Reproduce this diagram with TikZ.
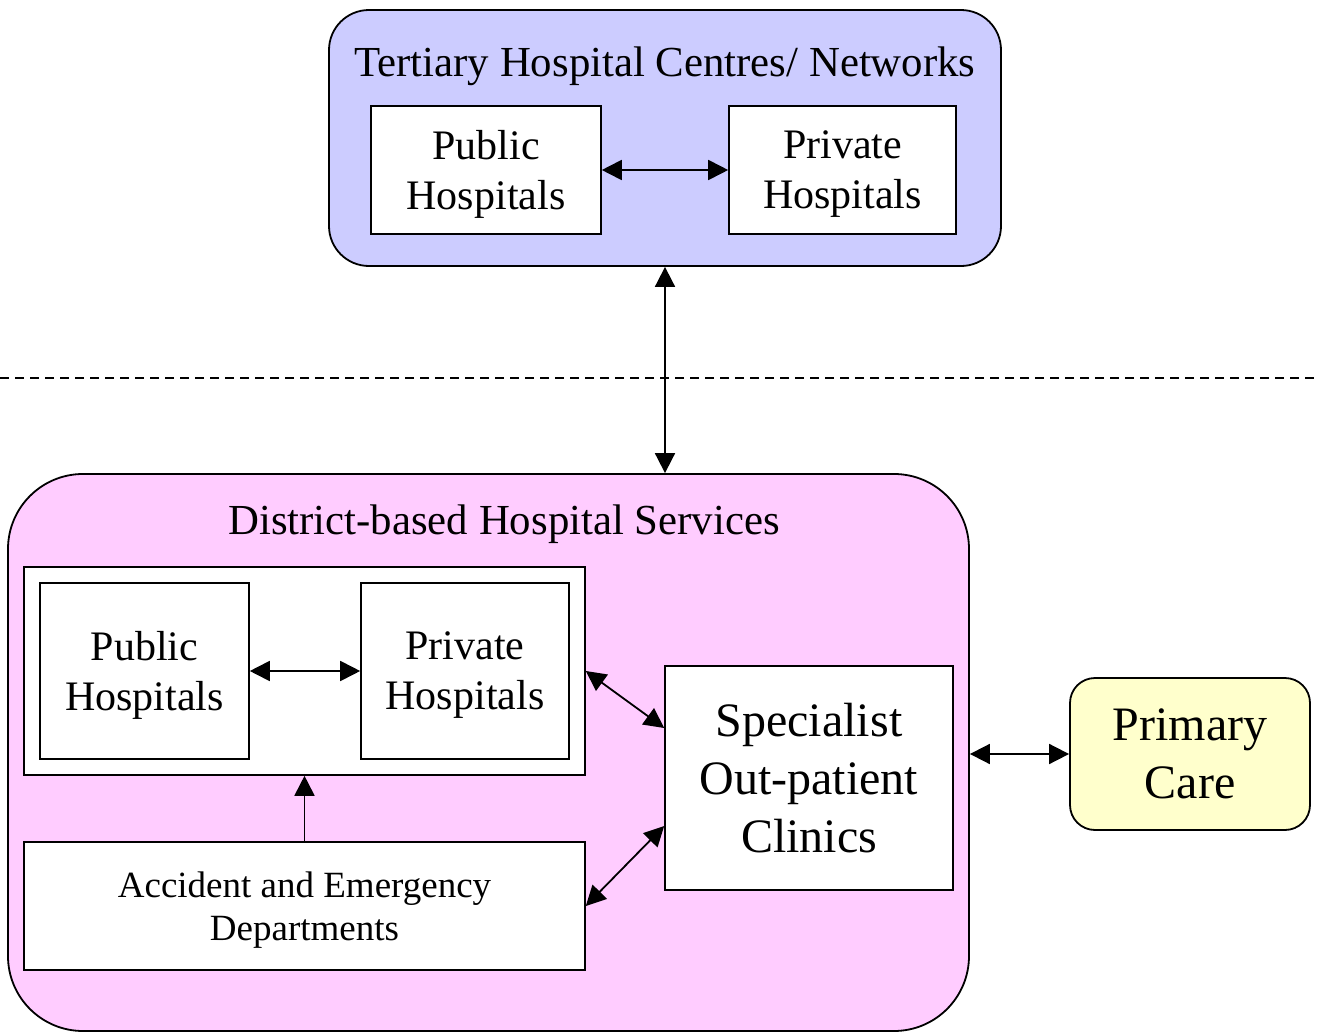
\documentclass[tikz,border=0pt]{standalone}
\usepackage{fontspec}
\setmainfont{Liberation Serif}
\usetikzlibrary{arrows.meta, calc}
\definecolor{tertblue}{RGB}{204,204,255}
\definecolor{distpink}{RGB}{255,204,255}
\definecolor{primyellow}{RGB}{255,255,204}
\tikzstyle{groupbox} = [draw,line width=0.9pt,rounded corners=20pt,inner sep=0pt]
\tikzstyle{hospbox} = [draw,line width=0.8pt,fill=white,align=center,inner sep=0pt,text depth=0pt,font=\fontsize{21}{25}\selectfont]
\tikzstyle{titletext} = [font=\fontsize{21.4}{25}\selectfont,inner sep=0pt]
\tikzstyle{bigtext} = [font=\fontsize{24}{29}\selectfont,align=center]
\tikzstyle{link} = [line width=0.9pt,{Triangle[length=10pt,width=10pt]}-{Triangle[length=10pt,width=10pt]}]

\begin{document}
\begin{tikzpicture}[x=0.5pt,y=-0.5pt]
			\useasboundingbox (0,0) rectangle (1319,1033);
			
			%% dashed border between the levels
			\coordinate (dl) at (0,378); \coordinate (dr) at (1319,378);
			\draw[line width=0.7pt,dash pattern=on 4.5pt off 3pt] (dl) -- (dr);
			
			%% tertiary level
			\node[groupbox,fill=tertblue,minimum width=336pt,minimum height=128pt] (tert) at (665,138) {};
			\node[titletext] (terttitle) at (665,66) {Tertiary Hospital Centres/ Networks};
			\node[hospbox,minimum width=115pt,minimum height=64pt] (tpub) at (486,170) {Public\\Hospitals};
			\node[hospbox,minimum width=113.5pt,minimum height=64pt] (tpriv) at (842.5,170) {Private\\Hospitals};
			
			%% district level
			\node[groupbox,fill=distpink,rounded corners=37.5pt,minimum width=480.5pt,minimum height=278.5pt] (dist) at (488.5,752.5) {};
			\node[titletext] (disttitle) at (504,524) {District-based Hospital Services};
			\node[hospbox,minimum width=280.5pt,minimum height=104pt] (hgroup) at (304.5,671) {};
			\node[hospbox,minimum width=104.5pt,minimum height=88pt] (dpub) at (144.5,671) {Public\\Hospitals};
			\node[hospbox,minimum width=104pt,minimum height=88pt] (dpriv) at (465,671) {Private\\Hospitals};
			\node[hospbox,font=\fontsize{18.5}{21.5}\selectfont,minimum width=280.5pt,minimum height=64pt] (ae) at (304.5,906) {Accident and Emergency\\Departments};
			\node[hospbox,bigtext,minimum width=144pt,minimum height=112pt] (soc) at (809,778) {Specialist\\Out-patient\\Clinics};
			
			%% primary care
			\node[groupbox,bigtext,fill=primyellow,rounded corners=12.5pt,minimum width=120pt,minimum height=76pt] (prim) at (1190,754) {Primary\\Care};
			
			%% edges
			\draw[link] (tpub) -- (tpriv);
			\draw[link] (tert.south) -- (tert.south |- dist.north);
			\draw[link] (dpub) -- (dpriv);
			\draw[line width=0.9pt,-{Triangle[length=10pt,width=10pt]}] (ae.north) -- (hgroup.south);
			\draw[link] (hgroup.east) -- ([yshift=25pt]soc.west);
			\draw[link] (ae.east) -- ([yshift=-24pt]soc.west);
			\draw[link] (dist.east |- prim.west) -- (prim.west);
		\end{tikzpicture}
\end{document}
